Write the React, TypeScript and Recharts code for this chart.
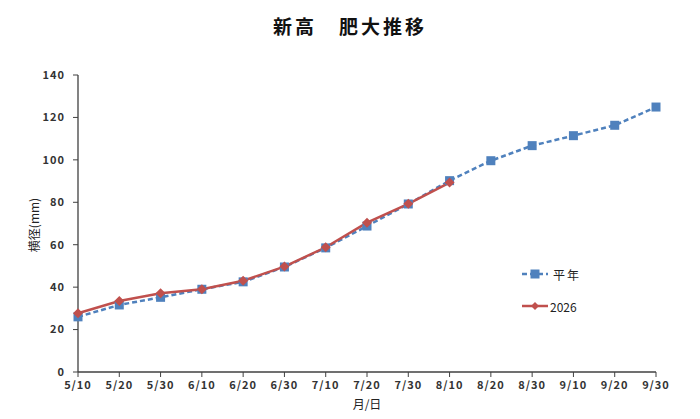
import React from "react";
import { LineChart, Line, XAxis, YAxis } from "recharts";

const dates = ["5/10", "5/20", "5/30", "6/10", "6/20", "6/30", "7/10", "7/20", "7/30", "8/10", "8/20", "8/30", "9/10", "9/20", "9/30"];
const heinen = [26, 31.6, 35.2, 39, 42.5, 49.5, 58.5, 68.8, 79.2, 90.2, 99.6, 106.7, 111.4, 116.3, 124.9];
const y2026 = [27.7, 33.5, 37.1, 39, 43, 49.7, 58.8, 70.4, 79.3, 89.3];
const yTicks = [0, 20, 40, 60, 80, 100, 120, 140];

const BLUE = "#4F81BD";
const RED = "#C0504D";
const FONT = "'Noto Sans CJK JP', 'DejaVu Sans', sans-serif";

const data = dates.map((d, i) => ({
  date: d,
  heinen: heinen[i],
  y2026: i < y2026.length ? y2026[i] : null,
}));

const Square = (p: any) =>
  p.cx == null || p.cy == null ? null : (
    <rect x={p.cx - 4.5} y={p.cy - 4.5} width={9} height={9} fill={BLUE} />
  );

const Diamond = (p: any) =>
  p.cx == null || p.cy == null ? null : (
    <path d={`M${p.cx},${p.cy - 5}L${p.cx + 5},${p.cy}L${p.cx},${p.cy + 5}L${p.cx - 5},${p.cy}Z`} fill={RED} />
  );

function LegendBox() {
  return (
    <div style={{ position: "absolute", left: 522, top: 264, fontFamily: FONT, fontSize: 12, color: "#222" }}>
      <div style={{ display: "flex", alignItems: "center", height: 20 }}>
        <svg width={26} height={12}>
          <line x1={0} y1={6} x2={26} y2={6} stroke={BLUE} strokeWidth={2.5} strokeDasharray="5 3" />
          <rect x={8.5} y={1.5} width={9} height={9} fill={BLUE} />
        </svg>
        <span style={{ marginLeft: 5, letterSpacing: 2 }}>平年</span>
      </div>
      <div style={{ display: "flex", alignItems: "center", height: 20, marginTop: 12 }}>
        <svg width={26} height={12}>
          <line x1={0} y1={6} x2={26} y2={6} stroke={RED} strokeWidth={2.5} />
          <path d="M13,2L17,6L13,10L9,6Z" fill={RED} />
        </svg>
        <span style={{ marginLeft: 2 }}>2026</span>
      </div>
    </div>
  );
}

export default function App() {
  const tick = { fill: "#333", fontSize: 11, fontWeight: 600, fontFamily: FONT, letterSpacing: 1 };
  return (
    <div style={{ position: "absolute", left: 0, top: 0, width: 700, height: 419, background: "#fff" }}>
      <div
        style={{
          position: "absolute", top: 12, left: 0, width: 700, textAlign: "center",
          fontFamily: FONT, fontWeight: 700, fontSize: 19, letterSpacing: 3, color: "#111",
        }}
      >
        新高　肥大推移
      </div>
      <div
        style={{
          position: "absolute", left: 33, top: 225, transform: "translate(-50%, -50%) rotate(-90deg)",
          fontFamily: FONT, fontSize: 12, color: "#222", whiteSpace: "nowrap",
        }}
      >
        横径(mm)
      </div>
      <div
        style={{
          position: "absolute", left: 367, top: 403, transform: "translate(-50%, -50%)",
          fontFamily: FONT, fontSize: 12, color: "#222",
        }}
      >
        月/日
      </div>
      <LineChart width={700} height={419} data={data} margin={{ top: 75, right: 44, bottom: 17, left: 18 }}>
        <XAxis
          dataKey="date"
          height={30}
          tick={tick}
          tickLine={{ stroke: "#404040" }}
          axisLine={{ stroke: "#404040", strokeWidth: 1.3 }}
          tickSize={5}
          tickMargin={4}
          interval={0}
          padding={{ left: 0, right: 0 }}
        />
        <YAxis
          type="number"
          domain={[0, 140]}
          ticks={yTicks}
          width={60}
          tick={tick}
          tickLine={{ stroke: "#404040" }}
          axisLine={{ stroke: "#404040", strokeWidth: 1.3 }}
          tickSize={5}
          tickMargin={8}
          interval={0}
        />
        <Line
          dataKey="heinen"
          stroke={BLUE}
          strokeWidth={2.5}
          strokeDasharray="5 3"
          dot={<Square />}
          activeDot={false}
          isAnimationActive={false}
        />
        <Line
          dataKey="y2026"
          stroke={RED}
          strokeWidth={2.5}
          dot={<Diamond />}
          activeDot={false}
          isAnimationActive={false}
        />
      </LineChart>
      <LegendBox />
    </div>
  );
}
